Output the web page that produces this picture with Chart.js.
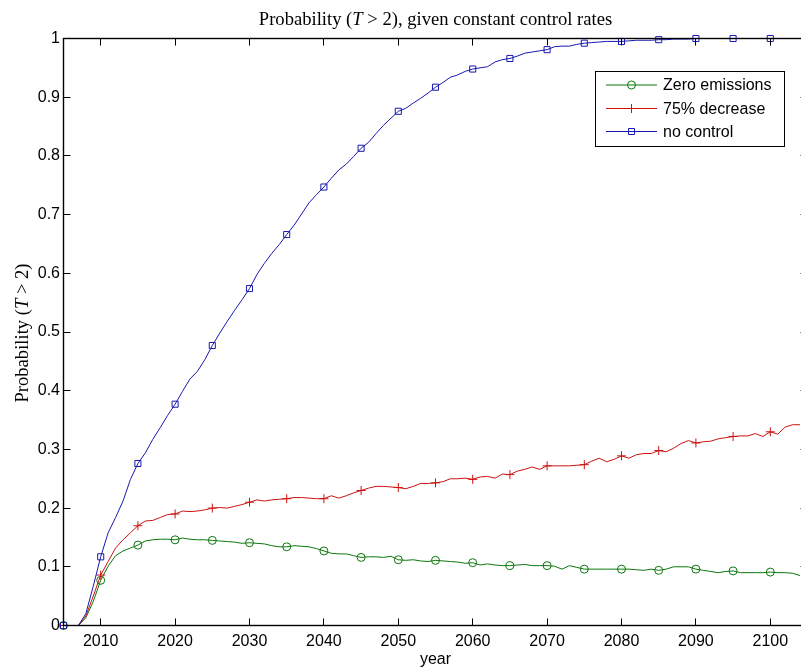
<!DOCTYPE html>
<html>
<head>
<meta charset="utf-8">
<title>Probability (T &gt; 2), given constant control rates</title>
<script src="https://cdn.jsdelivr.net/npm/chart.js@4/dist/chart.umd.min.js"></script>
<style>
  html, body { margin: 0; padding: 0; background: #ffffff; overflow: hidden; }
  #wrap { width: 830px; height: 667px; }
</style>
</head>
<body>
<div id="wrap"><canvas id="c" width="830" height="667"></canvas></div>
<script>
// Simulation years (one value per year)
const years = [
  2005, 2006, 2007, 2008, 2009, 2010, 2011, 2012, 2013, 2014,
  2015, 2016, 2017, 2018, 2019, 2020, 2021, 2022, 2023, 2024,
  2025, 2026, 2027, 2028, 2029, 2030, 2031, 2032, 2033, 2034,
  2035, 2036, 2037, 2038, 2039, 2040, 2041, 2042, 2043, 2044,
  2045, 2046, 2047, 2048, 2049, 2050, 2051, 2052, 2053, 2054,
  2055, 2056, 2057, 2058, 2059, 2060, 2061, 2062, 2063, 2064,
  2065, 2066, 2067, 2068, 2069, 2070, 2071, 2072, 2073, 2074,
  2075, 2076, 2077, 2078, 2079, 2080, 2081, 2082, 2083, 2084,
  2085, 2086, 2087, 2088, 2089, 2090, 2091, 2092, 2093, 2094,
  2095, 2096, 2097, 2098, 2099, 2100, 2101, 2102, 2103, 2104
];

// Probability that warming exceeds 2 degrees, per control scenario
const zeroEmissions = [
  0, 0, 0, 0.013, 0.041, 0.077, 0.101, 0.119, 0.127, 0.132,
  0.137, 0.144, 0.146, 0.147, 0.147, 0.146, 0.149, 0.147, 0.146, 0.146,
  0.145, 0.144, 0.143, 0.142, 0.140, 0.141, 0.140, 0.139, 0.136, 0.134,
  0.134, 0.136, 0.135, 0.134, 0.131, 0.127, 0.123, 0.122, 0.122, 0.119,
  0.116, 0.117, 0.117, 0.116, 0.118, 0.112, 0.111, 0.112, 0.110, 0.109,
  0.111, 0.110, 0.109, 0.108, 0.106, 0.107, 0.103, 0.105, 0.103, 0.102,
  0.102, 0.103, 0.104, 0.102, 0.102, 0.102, 0.101, 0.096, 0.102, 0.099,
  0.096, 0.096, 0.096, 0.096, 0.096, 0.096, 0.096, 0.095, 0.094, 0.096,
  0.094, 0.096, 0.100, 0.100, 0.100, 0.096, 0.094, 0.092, 0.090, 0.092,
  0.093, 0.090, 0.090, 0.090, 0.090, 0.091, 0.090, 0.090, 0.089, 0.085
];

const decrease75 = [
  0, 0, 0, 0.016, 0.050, 0.086, 0.109, 0.132, 0.146, 0.158,
  0.170, 0.178, 0.179, 0.184, 0.189, 0.190, 0.195, 0.194, 0.195, 0.197,
  0.200, 0.201, 0.200, 0.203, 0.206, 0.210, 0.214, 0.212, 0.214, 0.215,
  0.216, 0.218, 0.218, 0.217, 0.216, 0.216, 0.221, 0.217, 0.221, 0.226,
  0.230, 0.234, 0.237, 0.237, 0.236, 0.235, 0.233, 0.237, 0.242, 0.242,
  0.243, 0.245, 0.250, 0.250, 0.251, 0.249, 0.253, 0.254, 0.251, 0.258,
  0.257, 0.263, 0.266, 0.270, 0.266, 0.272, 0.272, 0.272, 0.272, 0.273,
  0.274, 0.280, 0.285, 0.279, 0.283, 0.289, 0.285, 0.291, 0.293, 0.293,
  0.298, 0.296, 0.302, 0.310, 0.315, 0.311, 0.313, 0.314, 0.318, 0.320,
  0.322, 0.323, 0.323, 0.327, 0.322, 0.330, 0.326, 0.338, 0.342, 0.342
];

const noControl = [
  0, 0, 0, 0.020, 0.067, 0.117, 0.158, 0.184, 0.212, 0.249,
  0.276, 0.294, 0.317, 0.337, 0.358, 0.377, 0.399, 0.420, 0.433, 0.453,
  0.477, 0.498, 0.518, 0.537, 0.555, 0.574, 0.598, 0.617, 0.634, 0.649,
  0.666, 0.682, 0.701, 0.720, 0.734, 0.747, 0.762, 0.776, 0.786, 0.799,
  0.813, 0.823, 0.838, 0.852, 0.864, 0.876, 0.881, 0.890, 0.898, 0.907,
  0.917, 0.925, 0.934, 0.938, 0.944, 0.948, 0.950, 0.952, 0.960, 0.964,
  0.966, 0.970, 0.975, 0.977, 0.979, 0.981, 0.986, 0.987, 0.987, 0.990,
  0.992, 0.993, 0.994, 0.995, 0.995, 0.995, 0.996, 0.997, 0.997, 0.997,
  0.998, 0.998, 0.999, 0.999, 0.999, 1.000, 1.000, 1.000, 1.000, 1.000,
  1.000, 1.000, 1.000, 1.000, 1.000, 1.000, 1.000, 1.000, 1.000, 1.000
];

// Axis ticks
const xTicks = [2010, 2020, 2030, 2040, 2050, 2060, 2070, 2080, 2090, 2100];
const yTicks = [0, 0.1, 0.2, 0.3, 0.4, 0.5, 0.6, 0.7, 0.8, 0.9, 1];
const yTickLabels = ['0', '0.1', '0.2', '0.3', '0.4', '0.5', '0.6', '0.7', '0.8', '0.9', '1'];
const seriesNames = ['Zero emissions', '75% decrease', 'no control'];

const SANS = '"Liberation Sans", Arial, Helvetica, sans-serif';
const SERIF = '"Liberation Serif", "Times New Roman", serif';
const GREEN = '#0c760c';
const RED = '#cc1212';
const BLUE = '#1818b0';

const toPoints = vals => vals.map((v, i) => ({ x: years[i], y: v }));
// markers on every fifth year
const markerRadius = r => ctx => (years[ctx.dataIndex] % 5 === 0 ? r : 0);

function lineSet(label, vals, color, style, radius, order) {
  return {
    label,
    data: toPoints(vals),
    borderColor: color,
    backgroundColor: color,
    borderWidth: 1,
    tension: 0,
    pointStyle: style,
    pointRadius: markerRadius(radius),
    pointHoverRadius: markerRadius(radius),
    pointBorderColor: color,
    pointBackgroundColor: 'rgba(0,0,0,0)',
    pointBorderWidth: 1,
    clip: false,
    order
  };
}

const W = 830, H = 667;
const AREA = { left: 63.5, right: 807.5, top: 38.5, bottom: 625.5 };

// Frame, inward tick marks, titles and the boxed legend
const decorations = {
  id: 'decorations',
  afterDraw(chart) {
    const { ctx, chartArea: a, scales: { x, y } } = chart;
    ctx.save();
    ctx.strokeStyle = '#000';
    ctx.lineWidth = 1.4;
    ctx.strokeRect(a.left, a.top, a.right - a.left, a.bottom - a.top);
    ctx.lineWidth = 1;
    ctx.beginPath();
    xTicks.forEach(v => {
      const px = Math.round(x.getPixelForValue(v) - 0.5) + 0.5;
      ctx.moveTo(px, a.bottom); ctx.lineTo(px, a.bottom - 7);
      ctx.moveTo(px, a.top); ctx.lineTo(px, a.top + 7);
    });
    yTicks.forEach(v => {
      const py = Math.round(y.getPixelForValue(v) - 0.5) + 0.5;
      ctx.moveTo(a.left, py); ctx.lineTo(a.left + 7, py);
      ctx.moveTo(a.right, py); ctx.lineTo(a.right - 7, py);
    });
    ctx.stroke();

    // chart title with italic T
    const cx = (a.left + a.right) / 2;
    const fs = 18.6;
    drawMixed(ctx, [
      ['Probability (', 'normal'],
      ['T', 'italic'],
      [' > 2), given constant control rates', 'normal']
    ], fs, cx, 25);

    // y axis title, rotated
    ctx.save();
    ctx.translate(27.5, (a.top + a.bottom) / 2 + 1);
    ctx.rotate(-Math.PI / 2);
    drawMixed(ctx, [['Probability (', 'normal'], ['T', 'italic'], [' > 2)', 'normal']], fs, 0, 0);
    ctx.restore();

    // x axis title
    ctx.fillStyle = '#000';
    ctx.font = '16px ' + SANS;
    ctx.textAlign = 'center';
    ctx.textBaseline = 'alphabetic';
    ctx.fillText('year', cx, 663.5);

    // legend
    const lb = { x: 595.5, y: 71.5, w: 189, h: 75 };
    ctx.fillStyle = '#fff';
    ctx.fillRect(lb.x, lb.y, lb.w, lb.h);
    ctx.strokeStyle = '#000';
    ctx.lineWidth = 1;
    ctx.strokeRect(lb.x, lb.y, lb.w, lb.h);
    const rowY = [85, 108.5, 131.5];
    chart.data.datasets.forEach((ds, i) => {
      const ry = rowY[i];
      ctx.strokeStyle = ds.borderColor;
      ctx.lineWidth = 1;
      ctx.beginPath();
      ctx.moveTo(606, ry); ctx.lineTo(657, ry);
      ctx.stroke();
      drawMarker(ctx, ds.pointStyle, 631.5, ry, ds.borderColor);
      ctx.fillStyle = '#000';
      ctx.font = '16px ' + SANS;
      ctx.textAlign = 'left';
      ctx.textBaseline = 'middle';
      ctx.fillText(ds.label, 663, ry + 1);
    });
    ctx.restore();
  }
};

function drawMixed(ctx, parts, fs, cx, baseline) {
  ctx.fillStyle = '#000';
  ctx.textBaseline = 'alphabetic';
  ctx.textAlign = 'left';
  let total = 0;
  parts.forEach(([t, st]) => { ctx.font = st + ' ' + fs + 'px ' + SERIF; total += ctx.measureText(t).width; });
  let px = cx - total / 2;
  parts.forEach(([t, st]) => {
    ctx.font = st + ' ' + fs + 'px ' + SERIF;
    ctx.fillText(t, px, baseline);
    px += ctx.measureText(t).width;
  });
}

function drawMarker(ctx, style, x, y, color) {
  ctx.strokeStyle = color;
  ctx.lineWidth = 1;
  ctx.beginPath();
  if (style === 'circle') {
    ctx.arc(x, y, 4, 0, Math.PI * 2);
  } else if (style === 'rect') {
    ctx.rect(x - 3, y - 3, 6, 6);
  } else {
    ctx.moveTo(x - 4.5, y); ctx.lineTo(x + 4.5, y);
    ctx.moveTo(x, y - 4.5); ctx.lineTo(x, y + 4.5);
  }
  ctx.stroke();
}

new Chart(document.getElementById('c'), {
  type: 'line',
  data: {
    datasets: [
      lineSet(seriesNames[0], zeroEmissions, GREEN, 'circle', 4, 3),
      lineSet(seriesNames[1], decrease75, RED, 'cross', 4.5, 2),
      lineSet(seriesNames[2], noControl, BLUE, 'rect', 4.3, 1)
    ]
  },
  options: {
    responsive: false,
    animation: false,
    events: [],
    layout: { padding: { left: 0, top: AREA.top, right: W - AREA.right, bottom: 0 } },
    plugins: {
      legend: { display: false },
      title: { display: false },
      tooltip: { enabled: false }
    },
    scales: {
      x: {
        type: 'linear',
        min: 2005,
        max: 2105,
        afterBuildTicks: s => { s.ticks = xTicks.map(v => ({ value: v })); },
        afterFit: s => { s.height = H - AREA.bottom; },
        grid: { display: false, drawTicks: false },
        border: { display: false },
        ticks: {
          autoSkip: false,
          maxRotation: 0,
          padding: 6.5,
          color: '#000',
          font: { family: SANS, size: 16 },
          callback: v => String(v)
        }
      },
      y: {
        type: 'linear',
        min: 0,
        max: 1,
        afterBuildTicks: s => { s.ticks = yTicks.map(v => ({ value: v })); },
        afterFit: s => { s.width = AREA.left; },
        grid: { display: false, drawTicks: false },
        border: { display: false },
        ticks: {
          padding: 3.5,
          color: '#000',
          font: { family: SANS, size: 16 },
          callback: (v, i) => yTickLabels[i]
        }
      }
    }
  },
  plugins: [decorations]
});
</script>
</body>
</html>
